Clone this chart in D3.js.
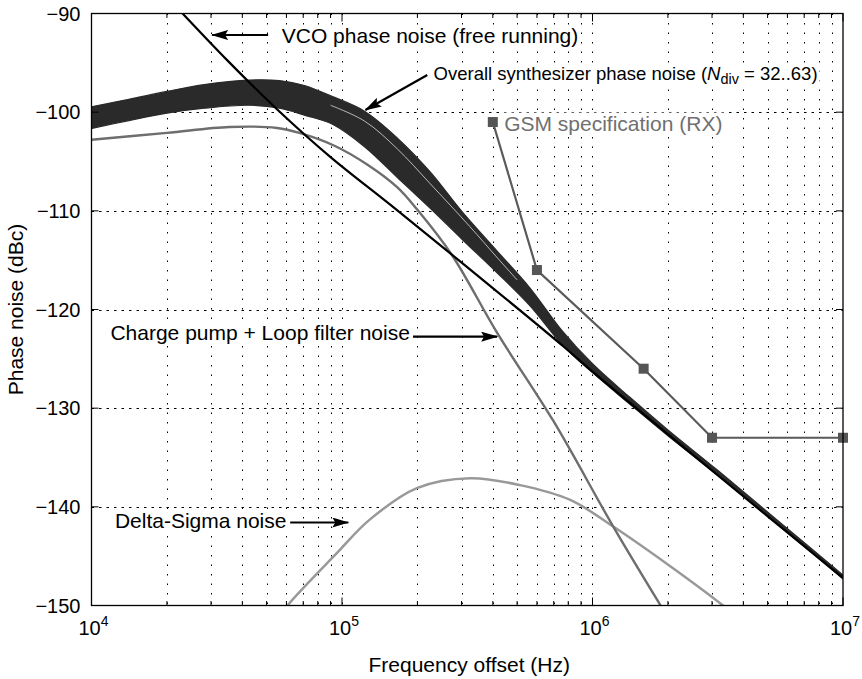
<!DOCTYPE html>
<html>
<head>
<meta charset="utf-8">
<script src="https://cdn.jsdelivr.net/npm/d3@7/dist/d3.min.js"></script>
<style>
  body { margin: 0; background: #fff; }
  svg { display: block; font-family: "Liberation Sans", Arial, Helvetica, sans-serif; }
</style>
</head>
<body>
<div id="chart"></div>
<script>
// axis ticks
const xDecades = [1e4, 1e5, 1e6, 1e7];
const yTicks = [-150, -140, -130, -120, -110, -100, -90];

// overall synthesizer phase noise band (Ndiv = 32..63), upper / lower envelope
const bandFreq = [1e4, 1.41e4, 2e4, 2.82e4, 4.27e4, 5.62e4, 7.08e4, 9.12e4, 1.23e5, 1.66e5, 2.24e5,
    3.02e5, 4.17e5, 5.62e5, 7.59e5, 1e6, 1.41e6, 2e6, 3.16e6, 5.62e6, 1e7];
const bandUpper = [-99.45, -98.7, -97.9, -97.2, -96.75, -96.8, -97.3, -98.4, -99.9, -102.6, -106.0,
    -110.1, -114.1, -117.8, -122.2, -125.5, -128.9, -132.2, -136.3, -141.6, -146.9];
const bandLower = [-101.65, -100.85, -100.1, -99.6, -99.3, -99.6, -100.3, -101.2, -103.5, -106.6, -109.7,
    -112.9, -116.3, -119.6, -123.6, -126.4, -129.6, -132.8, -136.8, -142.0, -147.3];
// thin gap visible between the upper curves of the band
const gapFreq = [9e4, 1.23e5, 1.66e5, 2.24e5, 3.24e5, 4.15e5, 5e5];
const gapNoise = [-99.3, -100.9, -103.7, -107.2, -111.6, -114.7, -117.0];

// VCO phase noise (free running)
const vcoFreq = [2e4, 2.31e4, 3.47e4, 5.5e4, 8.95e4, 1.58e5, 3.16e5, 7.66e5, 1e6, 3.16e6, 1e7];
const vcoNoise = [-88.3, -90, -94.7, -99.7, -104.5, -109.5, -115.7, -123.75, -126.3, -136.8, -147.2];

// charge pump + loop filter noise
const cpFreq = [1e4, 2e4, 3.55e4, 5.5e4, 6.76e4, 9.33e4, 1.26e5, 1.66e5, 2e5, 2.75e5, 4.17e5, 6.98e5, 1.21e6, 1.86e6, 2e6];
const cpNoise = [-102.8, -102.1, -101.5, -101.6, -102.1, -103.4, -105.3, -107.6, -109.9, -114.5, -122.4, -131.3, -142.0, -149.9, -151.2];

// delta-sigma noise
const dsFreq = [5.75e4, 6.11e4, 9.53e4, 1.29e5, 1.99e5, 3.25e5, 5.14e5, 8.15e5, 1.21e6, 2.05e6, 3.29e6, 3.5e6];
const dsNoise = [-150.9, -149.9, -144.7, -141.3, -138.1, -137.1, -137.8, -139.3, -142.0, -146.05, -149.93, -150.5];

// GSM specification (RX)
const gsmFreq = [4e5, 6e5, 1.6e6, 3e6, 1e7];
const gsmSpec = [-101, -116, -126, -133, -133];

const width = 862, height = 679;
const x = d3.scaleLog().domain([1e4, 1e7]).range([91.5, 843]);
const y = d3.scaleLinear().domain([-150, -90]).range([605.5, 13.5]);
const x0 = x.range()[0], x1 = x.range()[1], yTop = y.range()[1], yBot = y.range()[0];

const svg = d3.select("#chart").append("svg")
    .attr("width", width)
    .attr("height", height);

svg.append("rect").attr("width", width).attr("height", height).attr("fill", "#fff");

const defs = svg.append("defs");
defs.append("clipPath").attr("id", "plot")
    .append("rect")
    .attr("x", x0).attr("y", yTop)
    .attr("width", x1 - x0).attr("height", yBot - yTop);

defs.append("marker")
    .attr("id", "head")
    .attr("markerUnits", "userSpaceOnUse")
    .attr("viewBox", "0 0 17 10")
    .attr("markerWidth", 17).attr("markerHeight", 10)
    .attr("refX", 16).attr("refY", 5)
    .attr("orient", "auto")
    .append("path")
    .attr("d", "M0,0 L17,5 L0,10 L3,5 Z")
    .attr("fill", "#000");

// grid
const logTicks = x.ticks().filter(d => d > 1e4 && d < 1e7);
svg.append("g").selectAll("line")
    .data(logTicks)
    .join("line")
    .attr("x1", d => Math.round(x(d)) + 0.5).attr("x2", d => Math.round(x(d)) + 0.5)
    .attr("y1", yTop).attr("y2", yBot)
    .attr("stroke", "#000").attr("stroke-width", 1)
    .attr("stroke-dasharray", "1.5,8");

svg.append("g").selectAll("line")
    .data(yTicks.slice(1, -1))
    .join("line")
    .attr("x1", x0).attr("x2", x1)
    .attr("y1", d => Math.round(y(d)) + 0.5).attr("y2", d => Math.round(y(d)) + 0.5)
    .attr("stroke", "#000").attr("stroke-width", 1)
    .attr("stroke-dasharray", "2.5,5");

// annotation labels (white boxes go behind the curves)
const bgLayer = svg.append("g");
const curveLayer = svg.append("g").attr("clip-path", "url(#plot)");
const labelLayer = svg.append("g");

const labels = [
    {text: "VCO phase noise (free running)", f: 5.75e4, v: -93.02, size: 21, color: "#000",
        arrow: [[5.07e4, -92.18], [3.03e4, -92.18]]},
    {text: "Overall synthesizer phase noise (", f: 2.32e5, v: -96.74, size: 18.5, color: "#000",
        rich: true, arrow: [[2.19e5, -96.23], [1.24e5, -99.78]]},
    {text: "GSM specification (RX)", f: 4.44e5, v: -101.87, size: 21, color: "#707070"},
    {text: "Charge pump + Loop filter noise", f: 1.19e4, v: -123.08, size: 21, color: "#000",
        arrow: [[1.92e5, -122.75], [4.16e5, -122.75]]},
    {text: "Delta-Sigma noise", f: 1.24e4, v: -142.16, size: 21, color: "#000",
        arrow: [[6.21e4, -141.59], [1.06e5, -141.59]]}
];

labels.forEach(l => {
    const t = labelLayer.append("text")
        .attr("x", x(l.f)).attr("y", y(l.v))
        .attr("font-size", l.size)
        .attr("fill", l.color)
        .text(l.text);
    if (l.rich) {
        t.append("tspan").attr("font-style", "italic").text("N");
        t.append("tspan").attr("dy", 4).attr("font-size", l.size * 0.78).text("div");
        t.append("tspan").attr("dy", -4).text(" = 32..63)");
    }
    const b = t.node().getBBox();
    bgLayer.append("rect")
        .attr("x", b.x - 2).attr("y", b.y + 1)
        .attr("width", b.width + 4).attr("height", b.height - 2)
        .attr("fill", "#fff");
    if (l.arrow) {
        labelLayer.append("line")
            .attr("x1", x(l.arrow[0][0])).attr("y1", y(l.arrow[0][1]))
            .attr("x2", x(l.arrow[1][0])).attr("y2", y(l.arrow[1][1]))
            .attr("stroke", "#000").attr("stroke-width", 2.2)
            .attr("marker-end", "url(#head)");
    }
});

// curves
const line = d3.line()
    .x(d => x(d[0]))
    .y(d => y(d[1]))
    .curve(d3.curveCatmullRom.alpha(0.5));

const band = d3.area()
    .x(d => x(d[0]))
    .y0(d => y(d[2]))
    .y1(d => y(d[1]))
    .curve(d3.curveCatmullRom.alpha(0.5));

curveLayer.append("path")
    .datum(bandFreq.map((f, i) => [f, bandUpper[i], bandLower[i]]))
    .attr("d", band)
    .attr("fill", "#2a2a2a")
    .attr("stroke", "#2a2a2a")
    .attr("stroke-width", 1.2);

curveLayer.append("path")
    .datum(gapFreq.map((f, i) => [f, gapNoise[i]]))
    .attr("d", line)
    .attr("fill", "none")
    .attr("stroke", "#fff")
    .attr("stroke-opacity", 0.85)
    .attr("stroke-width", 0.8);

curveLayer.append("path")
    .datum(dsFreq.map((f, i) => [f, dsNoise[i]]))
    .attr("d", line)
    .attr("fill", "none")
    .attr("stroke", "#999")
    .attr("stroke-width", 2.5);

curveLayer.append("path")
    .datum(cpFreq.map((f, i) => [f, cpNoise[i]]))
    .attr("d", line)
    .attr("fill", "none")
    .attr("stroke", "#6e6e6e")
    .attr("stroke-width", 2.4);

curveLayer.append("path")
    .datum(vcoFreq.map((f, i) => [f, vcoNoise[i]]))
    .attr("d", line)
    .attr("fill", "none")
    .attr("stroke", "#000")
    .attr("stroke-width", 2.2);

const gsm = gsmFreq.map((f, i) => [f, gsmSpec[i]]);
svg.append("path")
    .datum(gsm)
    .attr("d", d3.line().x(d => x(d[0])).y(d => y(d[1])))
    .attr("fill", "none")
    .attr("stroke", "#5a5a5a")
    .attr("stroke-width", 2.2);

svg.append("g").selectAll("rect")
    .data(gsm)
    .join("rect")
    .attr("x", d => x(d[0]) - 5).attr("y", d => y(d[1]) - 5)
    .attr("width", 10).attr("height", 10)
    .attr("fill", "#555");

// frame and ticks
svg.append("rect")
    .attr("x", x0).attr("y", yTop)
    .attr("width", x1 - x0).attr("height", yBot - yTop)
    .attr("fill", "none").attr("stroke", "#000").attr("stroke-width", 1.3);

const allLog = x.ticks();
const tickG = svg.append("g").attr("stroke", "#000").attr("stroke-width", 1);
allLog.forEach(d => {
    const len = xDecades.includes(d) ? 8 : 4.5;
    tickG.append("line").attr("x1", x(d)).attr("x2", x(d)).attr("y1", yBot).attr("y2", yBot - len);
    tickG.append("line").attr("x1", x(d)).attr("x2", x(d)).attr("y1", yTop).attr("y2", yTop + len);
});
yTicks.forEach(d => {
    tickG.append("line").attr("x1", x0).attr("x2", x0 + 7).attr("y1", y(d)).attr("y2", y(d));
    tickG.append("line").attr("x1", x1).attr("x2", x1 - 7).attr("y1", y(d)).attr("y2", y(d));
});

// tick labels
svg.append("g").selectAll("text")
    .data(yTicks)
    .join("text")
    .attr("x", x0 - 11)
    .attr("y", d => y(d) + 7.2)
    .attr("text-anchor", "end")
    .attr("font-size", 20)
    .text(d => d3.format("d")(d).replace("-", "\u2212"));

const xl = svg.append("g").selectAll("text")
    .data(xDecades)
    .join("text")
    .attr("x", d => x(d) + 2)
    .attr("y", 635)
    .attr("text-anchor", "middle")
    .attr("font-size", 20);
xl.append("tspan").text("10");
xl.append("tspan").attr("dy", -9).attr("font-size", 14).text(d => Math.log10(d));

svg.append("text")
    .attr("x", (x0 + x1) / 2 + 2)
    .attr("y", 672)
    .attr("text-anchor", "middle")
    .attr("font-size", 21)
    .text("Frequency offset (Hz)");

svg.append("text")
    .attr("transform", `translate(23,${(yTop + yBot) / 2}) rotate(-90)`)
    .attr("text-anchor", "middle")
    .attr("font-size", 21)
    .text("Phase noise (dBc)");
</script>
</body>
</html>
